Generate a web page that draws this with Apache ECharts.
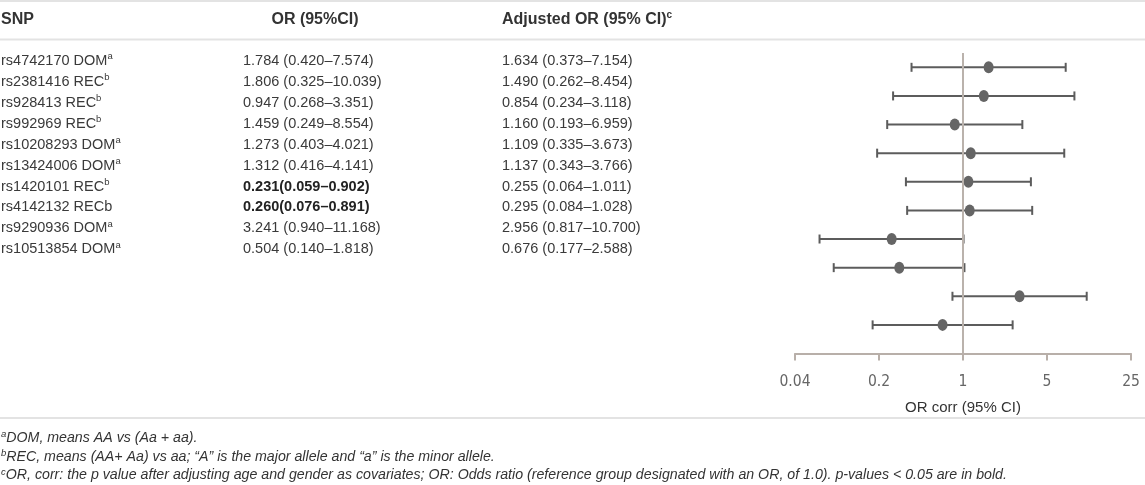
<!DOCTYPE html>
<html>
<head>
<meta charset="utf-8">
<script src="https://cdn.jsdelivr.net/npm/echarts@6/dist/echarts.min.js"></script>
<style>
html,body{margin:0;padding:0;background:#fff;}
#c{width:1145px;height:485px;}
</style>
</head>
<body>
<div id="c"></div>
<script>
// ---- data ----
const snpNames = ['rs4742170 DOM','rs2381416 REC','rs928413 REC','rs992969 REC','rs10208293 DOM','rs13424006 DOM','rs1420101 REC','rs4142132 RECb','rs9290936 DOM','rs10513854 DOM'];
const snpSup = ['a','b','b','b','a','a','b','','a','a'];
const orVal = [1.784,1.806,0.947,1.459,1.273,1.312,0.231,0.260,3.241,0.504];
const orLo  = [0.420,0.325,0.268,0.249,0.403,0.416,0.059,0.076,0.940,0.140];
const orHi  = [7.574,10.039,3.351,8.554,4.021,4.141,0.902,0.891,11.168,1.818];
const orBold = [false,false,false,false,false,false,true,true,false,false];
const adjVal = [1.634,1.490,0.854,1.160,1.109,1.137,0.255,0.295,2.956,0.676];
const adjLo  = [0.373,0.262,0.234,0.193,0.335,0.343,0.064,0.084,0.817,0.177];
const adjHi  = [7.154,8.454,3.118,6.959,3.673,3.766,1.011,1.028,10.700,2.588];
const tickLabels = ['0.04','0.2','1','5','25'];
const headers = ['SNP','OR (95%CI)','Adjusted OR (95% CI)'];
const footSup = ['a','b','c'];
const footnotes = [
  'DOM, means AA vs (Aa + aa).',
  'REC, means (AA+ Aa) vs aa; \u201cA\u201d is the major allele and \u201ca\u201d is the minor allele.',
  'OR, corr: the p value after adjusting age and gender as covariates; OR: Odds ratio (reference group designated with an OR, of 1.0). p-values < 0.05 are in bold.'
];

// ---- layout ----
const FONT = '"Liberation Sans", Arial, sans-serif';
const TXT = '#3a3a3a';
const row0 = 60.8, rowStep = 20.95;
const colX = [1, 243, 502];

const f3 = v => v.toFixed(3);
const graphics = [];
function hline(y){
  graphics.push({type:'line', silent:true, shape:{x1:0,y1:y,x2:1145,y2:y}, style:{stroke:'#e3e3e3', lineWidth:2}});
}
hline(1); hline(39.5); hline(418);

// headers
const hRich = {
  h:{fontFamily:FONT, fontSize:16, fontWeight:'bold', fill:'#333', lineHeight:20},
  s:{fontFamily:FONT, fontSize:10, fontWeight:'bold', fill:'#333', verticalAlign:'top', lineHeight:10}
};
graphics.push({type:'text', silent:true, x:colX[0], y:20, style:{text:'{h|'+headers[0]+'}', rich:hRich, verticalAlign:'middle'}});
graphics.push({type:'text', silent:true, x:315, y:20, style:{text:'{h|'+headers[1]+'}', rich:hRich, align:'center', verticalAlign:'middle'}});
graphics.push({type:'text', silent:true, x:colX[2], y:20, style:{text:'{h|'+headers[2]+'}{s|c}', rich:hRich, verticalAlign:'middle'}});

const rRich = {
  n:{fontFamily:FONT, fontSize:14.5, fill:TXT, lineHeight:18},
  b:{fontFamily:FONT, fontSize:14.5, fontWeight:'bold', fill:'#222', lineHeight:18},
  s:{fontFamily:FONT, fontSize:9.5, fill:TXT, verticalAlign:'top', lineHeight:10}
};
snpNames.forEach((name, i) => {
  const y = row0 + i * rowStep;
  graphics.push({type:'text', silent:true, x:colX[0], y:y, style:{text:'{n|'+name+'}' + (snpSup[i] ? '{s|'+snpSup[i]+'}' : ''), rich:rRich, verticalAlign:'middle'}});
  const orT = orBold[i]
    ? '{b|' + f3(orVal[i]) + '(' + f3(orLo[i]) + '\u2013' + f3(orHi[i]) + ')}'
    : '{n|' + f3(orVal[i]) + ' (' + f3(orLo[i]) + '\u2013' + f3(orHi[i]) + ')}';
  graphics.push({type:'text', silent:true, x:colX[1], y:y, style:{text:orT, rich:rRich, verticalAlign:'middle'}});
  graphics.push({type:'text', silent:true, x:colX[2], y:y, style:{text:'{n|' + f3(adjVal[i]) + ' (' + f3(adjLo[i]) + '\u2013' + f3(adjHi[i]) + ')}', rich:rRich, verticalAlign:'middle'}});
});

// footnotes
const fRich = {
  n:{fontFamily:FONT, fontSize:14.2, fontStyle:'italic', fill:'#333', lineHeight:17},
  s:{fontFamily:FONT, fontSize:9.5, fontStyle:'italic', fill:'#333', verticalAlign:'top', lineHeight:9}
};
const footY = [438, 457, 475.5];
footnotes.forEach((t, i) => {
  graphics.push({type:'text', silent:true, x:1, y:footY[i], style:{text:'{s|'+footSup[i]+'}{n|'+t+'}', rich:fRich, verticalAlign:'middle'}});
});

// ---- forest plot data ----
const barData = adjVal.map((v, i) => [adjLo[i], adjHi[i], i + 1]);
const ptData = adjVal.map((v, i) => [v, i + 1]);

const chart = echarts.init(document.getElementById('c'), null, {renderer:'canvas'});
chart.setOption({
  animation:false,
  backgroundColor:'#fff',
  grid:{left:795, width:336, top:53, bottom:131.5, containLabel:false},
  xAxis:{
    type:'log', logBase:5, min:0.04, max:25, splitNumber:4,
    axisLine:{onZero:false, lineStyle:{color:'#b8afa9', width:2}},
    axisTick:{show:true, length:7, lineStyle:{color:'#b8afa9', width:2}},
    splitLine:{show:false}, minorTick:{show:false},
    axisLabel:{
      margin:20, color:'#666', fontSize:15.5, fontFamily:'"DejaVu Sans Condensed", "Liberation Sans Narrow", sans-serif',
      formatter: v => tickLabels[Math.round(Math.log(v) / Math.log(5)) + 2]
    },
    name:'OR corr (95% CI)', nameLocation:'middle', nameGap:47,
    nameTextStyle:{color:'#333', fontSize:15, fontFamily:FONT}
  },
  yAxis:{type:'value', inverse:true, min:0.5, max:11, show:false},
  graphic: graphics,
  series:[
    {
      type:'custom',
      data: barData,
      encode:{x:[0,1], y:2},
      renderItem:(params, api) => {
        const p1 = api.coord([api.value(0), api.value(2)]);
        const p2 = api.coord([api.value(1), api.value(2)]);
        const st = {stroke:'#5c5c5c', lineWidth:2};
        const h = 4.5;
        return {type:'group', children:[
          {type:'line', shape:{x1:p1[0], y1:p1[1], x2:p2[0], y2:p2[1]}, style:st},
          {type:'line', shape:{x1:p1[0], y1:p1[1]-h, x2:p1[0], y2:p1[1]+h}, style:st},
          {type:'line', shape:{x1:p2[0], y1:p2[1]-h, x2:p2[0], y2:p2[1]+h}, style:st}
        ]};
      },
      markLine:{
        silent:true, symbol:'none', label:{show:false},
        lineStyle:{color:'#bab2ac', width:2, type:'solid'},
        data:[{xAxis:1}]
      },
      z:2
    },
    {
      type:'scatter',
      data: ptData,
      symbol:'circle', symbolSize:[10,12],
      itemStyle:{color:'#656565', opacity:1},
      z:3
    }
  ]
});
</script>
</body>
</html>
